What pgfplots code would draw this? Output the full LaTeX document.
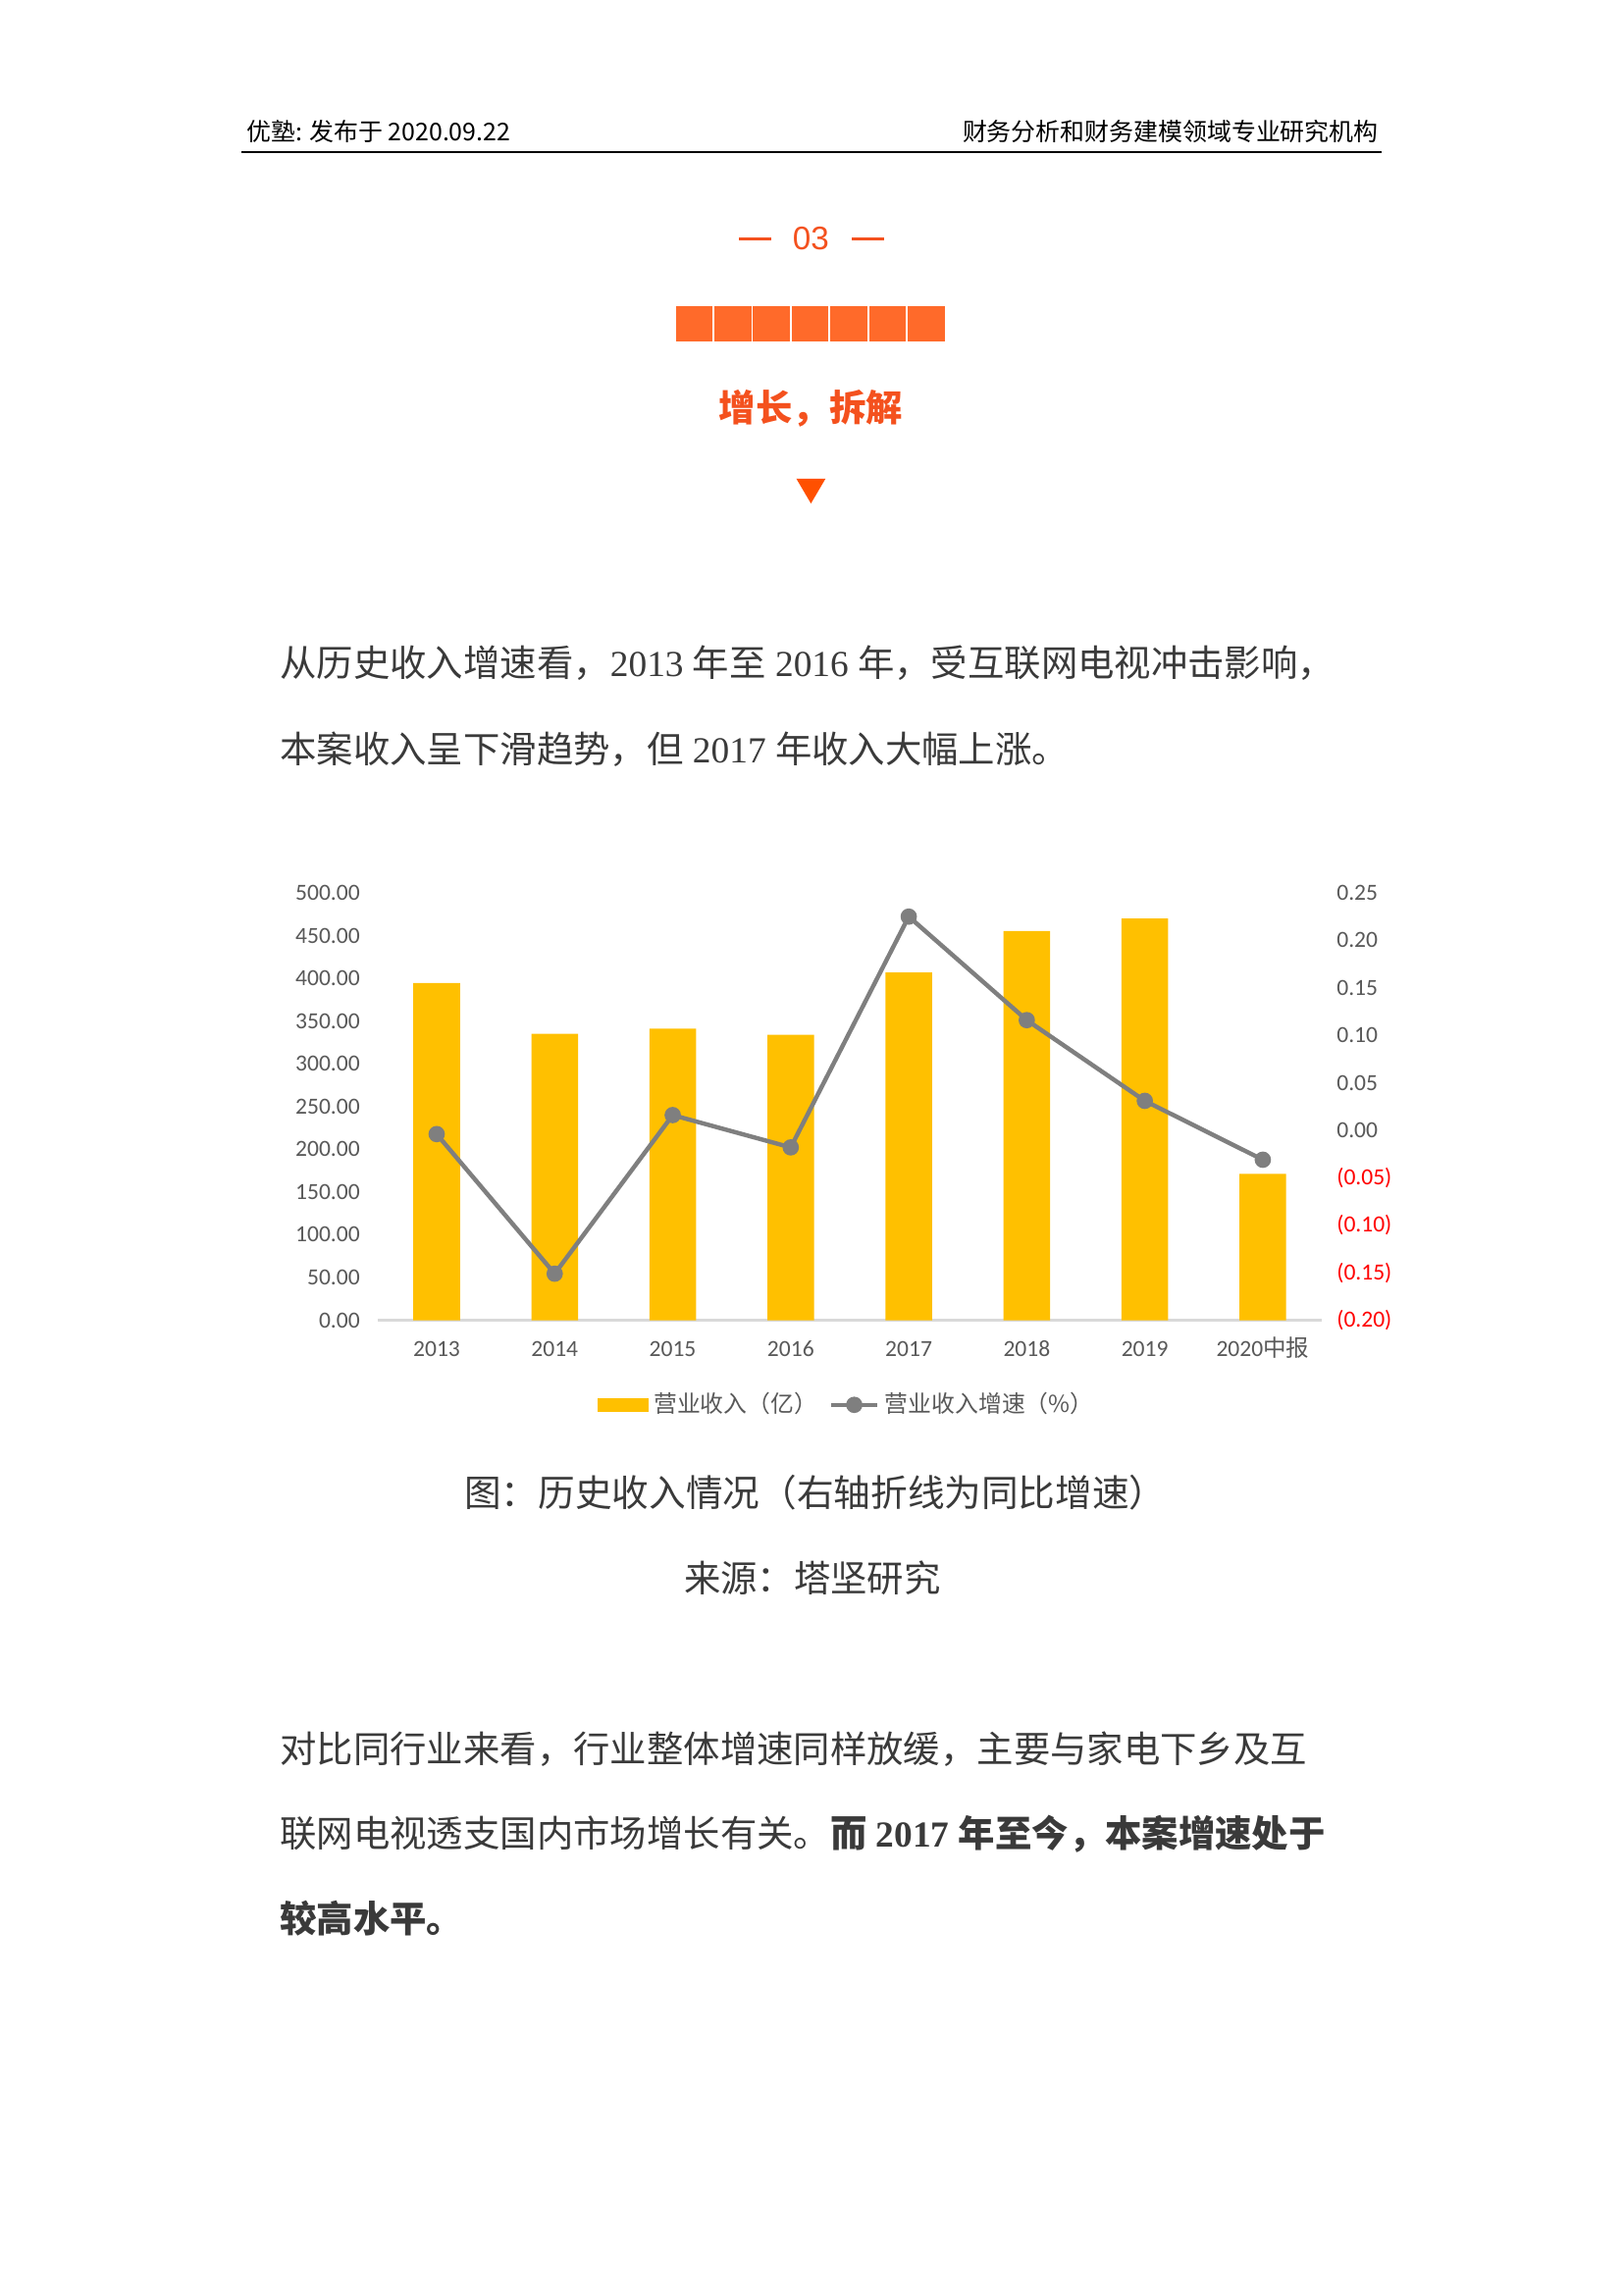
\documentclass[border=0pt]{standalone}
\usepackage{pgfplots}
\pgfplotsset{compat=1.18}
\usepackage{fontspec}
\setmainfont{Liberation Serif}
\newfontfamily\cjk{Noto Sans CJK SC}
\newfontfamily\calibri{Carlito}
\newfontfamily\arial{Liberation Sans}
\newcommand\C[1]{{\cjk #1}}
\definecolor{barc}{HTML}{FFC000}
\definecolor{linec}{HTML}{7F7F7F}
\definecolor{tickc}{HTML}{595959}
\definecolor{axisc}{HTML}{D9D9D9}
\definecolor{negred}{HTML}{FF0000}
\definecolor{orng}{HTML}{F4511E}
\definecolor{blk}{HTML}{FF6A2A}
\definecolor{tri}{HTML}{FF5000}
\definecolor{bodyc}{HTML}{3A3A3A}
\begin{document}
\begin{tikzpicture}
\begin{scope}[x=0.18936mm,y=-0.18936mm]
\fill[white] (0,0) rectangle (1109,1568);
% header
\node[anchor=west,inner sep=0,font=\cjk\fontsize{9pt}{11pt}\selectfont,text=black] at (168,90) {优塾: 发布于 2020.09.22};
\node[anchor=east,inner sep=0,font=\cjk\fontsize{9pt}{11pt}\selectfont,text=black] at (942,90) {财务分析和财务建模领域专业研究机构};
\draw[line width=0.8pt] (165,104) -- (944,104);
% section mark
\draw[orng,line width=1.1pt] (505,163) -- (527,163);
\draw[orng,line width=1.1pt] (582,163) -- (604,163);
\node[text=orng,inner sep=0,font=\arial\fontsize{12pt}{13pt}\selectfont] at (554,163) {03};
\foreach \i in {0,...,6} {\fill[blk] (461+\i*26.43+0.6,209) rectangle (461+\i*26.43+26.43-0.6,233);}
\node[text=orng,inner sep=0,font=\cjk\bfseries\fontsize{13.5pt}{15pt}\selectfont] at (554,279) {增长，拆解};
\fill[tri] (544,327) -- (564,327) -- (554,344) -- cycle;
% body
\begin{scope}[every node/.style={anchor=west,inner sep=0,text=bodyc,font=\fontsize{13.5pt}{15pt}\selectfont}]
\node at (191,453) {\C{从历史收入增速看，}2013 \C{年至} 2016 \C{年，受互联网电视冲击影响，}};
\node at (191,512) {\C{本案收入呈下滑趋势，但} 2017 \C{年收入大幅上涨。}};
\node at (191,1195) {\C{对比同行业来看，行业整体增速同样放缓，主要与家电下乡及互}};
\node at (191,1253) {\C{联网电视透支国内市场增长有关。}{\bfseries\C{而} 2017 \C{年至今，本案增速处于}}};
\node at (191,1311) {{\bfseries\C{较高水平。}}};
\end{scope}
\node[inner sep=0,text=bodyc,font=\cjk\fontsize{13.6pt}{15pt}\selectfont] at (557,1020) {图：历史收入情况（右轴折线为同比增速）};
\node[inner sep=0,text=bodyc,font=\cjk\fontsize{13.5pt}{15pt}\selectfont] at (555,1078) {来源：塔坚研究};
\end{scope}

\begin{axis}[
  at={(258*0.18936mm,-902*0.18936mm)}, anchor=south west,
  scale only axis, width=122.14mm, height=55.29mm,
  xmin=-0.5, xmax=7.5, ymin=0, ymax=500,
  axis x line*=bottom, axis y line*=left,
  x axis line style={draw=axisc,line width=0.9pt,-},
  y axis line style={draw=none},
  major tick length=0pt,
  xtick={0,1,2,3,4,5,6,7},
  xticklabels={2013,2014,2015,2016,2017,2018,2019,2020\C{中报}},
  ytick={0,50,100,150,200,250,300,350,400,450,500},
  yticklabels={0.00,50.00,100.00,150.00,200.00,250.00,300.00,350.00,400.00,450.00,500.00},
  ticklabel style={font=\calibri\fontsize{8.5pt}{10pt}\selectfont, text=tickc},
  xticklabel style={anchor=base, yshift=-13.4pt},
  yticklabel style={xshift=-3pt},
  ybar, bar width=6.03mm,
  clip=false,
]
\addplot[fill=barc, draw=none] coordinates {(0,394.6)(1,335.2)(2,341)(3,334.1)(4,406.9)(5,455.4)(6,470)(7,171.2)};
\end{axis}

\begin{axis}[
  at={(258*0.18936mm,-902*0.18936mm)}, anchor=south west,
  scale only axis, width=122.14mm, height=55.29mm,
  xmin=-0.5, xmax=7.5, ymin=-0.2, ymax=0.25,
  axis x line=none, axis y line*=right,
  y axis line style={draw=none},
  major tick length=0pt,
  ytick={-0.2,-0.15,-0.1,-0.05,0,0.05,0.1,0.15,0.2,0.25},
  yticklabels={{\color{negred}(0.20)},{\color{negred}(0.15)},{\color{negred}(0.10)},{\color{negred}(0.05)},0.00,0.05,0.10,0.15,0.20,0.25},
  yticklabel style={font=\calibri\fontsize{8.5pt}{10pt}\selectfont, text=tickc, xshift=2pt},
  clip=false,
  legend style={at={(0.4985,-0.198)}, anchor=center, draw=none, fill=none, legend columns=2,
    font=\cjk\fontsize{8.6pt}{10pt}\selectfont, text=tickc,
    /tikz/every even column/.append style={column sep=0.8mm}},
  legend cell align=left,
]
\addlegendimage{legend image code/.code={\fill[barc] (0cm,-0.085cm) rectangle (0.64cm,0.085cm);}}
\addlegendentry{营业收入（亿）}
\addplot[color=linec, line width=1.6pt, mark=*, mark size=2.2pt, mark options={solid,fill=linec,draw=linec}]
  coordinates {(0,-0.004)(1,-0.151)(2,0.016)(3,-0.018)(4,0.225)(5,0.116)(6,0.031)(7,-0.031)};
\addlegendentry{营业收入增速（\%）}
\end{axis}
\end{tikzpicture}
\end{document}
